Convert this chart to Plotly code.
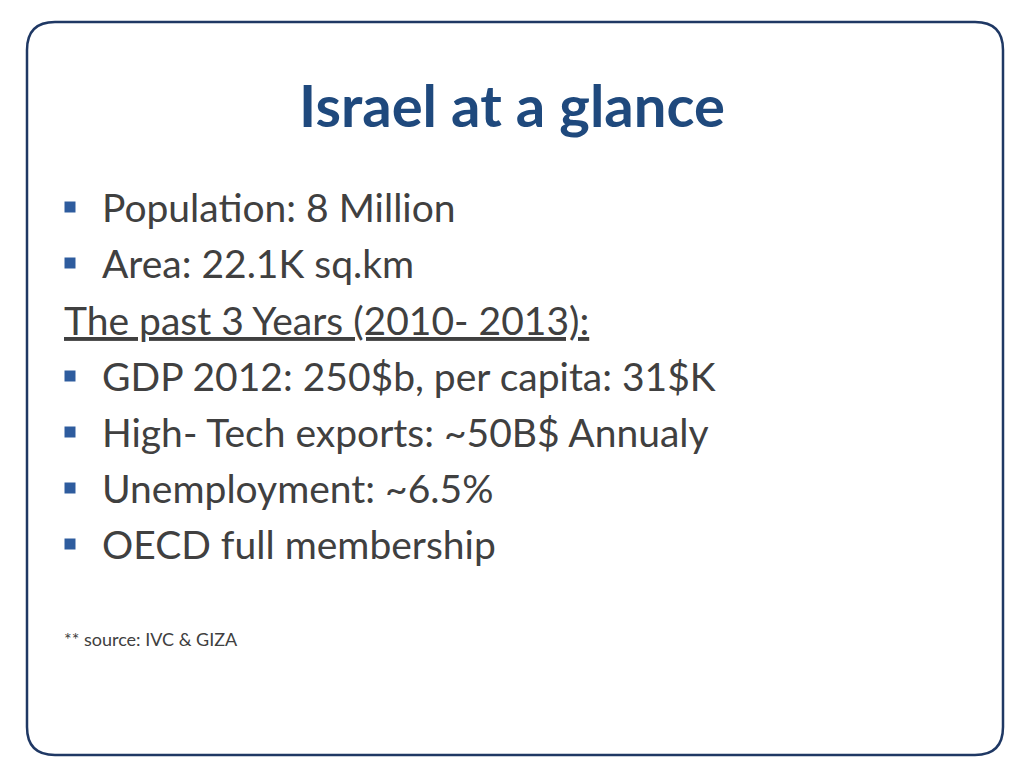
import plotly.graph_objects as go

title = "Israel at a glance"
lines = ["Population: 8 Million", "Area: 22.1K sq.km", "The past 3 Years (2010- 2013):",
         "GDP 2012: 250$b, per capita: 31$K", "High- Tech exports: ~50B$ Annualy",
         "Unemployment: ~6.5%", "OECD full membership"]
bulleted = [True, True, False, True, True, True, True]
line_y = [207, 263, 320, 376, 432, 488, 544]
source = "** source: IVC & GIZA"

OFF = 8  # browser page offset
fig = go.Figure()
bx = [70 - OFF for b in bulleted if b]
by = [y - OFF for y, b in zip(line_y, bulleted) if b]
fig.add_trace(go.Scatter(x=bx, y=by, mode="markers",
                         marker=dict(symbol="square", size=11, color="#2E5C9E"),
                         hoverinfo="skip", showlegend=False))
for t, y, b in zip(lines, line_y, bulleted):
    fig.add_annotation(x=(100 if b else 62) - OFF, y=y - OFF,
                       text=t if b else "<u>" + t + "</u>",
                       xanchor="left", yanchor="middle", showarrow=False,
                       font=dict(family="Lato", size=39, color="#404040"))
fig.add_annotation(x=512 - OFF, y=104 - OFF, text="<b>" + title + "</b>", showarrow=False,
                   xanchor="center", yanchor="middle",
                   font=dict(family="Lato", size=58, color="#1F497D"))
fig.add_annotation(x=62 - OFF, y=639 - OFF, text=source, showarrow=False, xanchor="left",
                   yanchor="middle", font=dict(family="Lato", size=18, color="#404040"))

r = 28
x0, x1, y0, y1 = 27 - OFF, 1003 - OFF, 22 - OFF, 755 - OFF
path = (f"M {x0+r},{y0} L {x1-r},{y0} Q {x1},{y0} {x1},{y0+r} L {x1},{y1-r} "
        f"Q {x1},{y1} {x1-r},{y1} L {x0+r},{y1} Q {x0},{y1} {x0},{y1-r} "
        f"L {x0},{y0+r} Q {x0},{y0} {x0+r},{y0} Z")
fig.add_shape(type="path", path=path, line=dict(color="#1F3864", width=2.5),
              xref="x", yref="y")

fig.update_layout(width=1024, height=768, margin=dict(l=0, r=0, t=0, b=0),
                  paper_bgcolor="white", plot_bgcolor="white",
                  xaxis=dict(range=[0, 1024], visible=False, fixedrange=True),
                  yaxis=dict(range=[768, 0], visible=False, fixedrange=True))
fig.write_html("out.html", config={"displayModeBar": False})
